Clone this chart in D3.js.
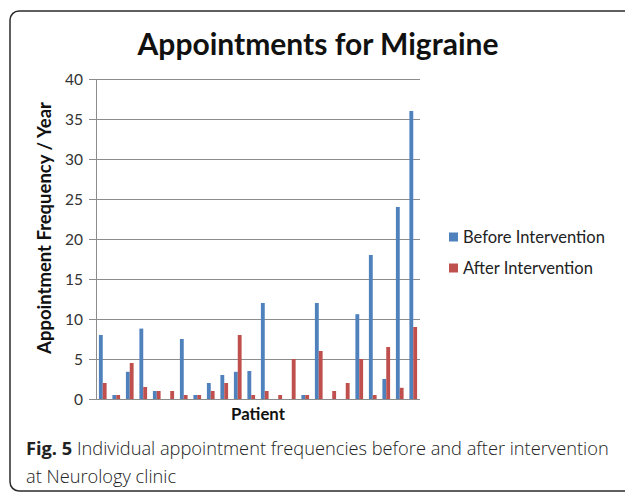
<!DOCTYPE html>
<html><head><meta charset="utf-8">
<script src="https://cdn.jsdelivr.net/npm/d3@7"></script>
<style>
html,body{margin:0;padding:0;background:#fff;}
svg{display:block;}
</style></head>
<body>
<svg id="c" width="625" height="494"></svg>
<script>
const patients = d3.range(1, 25).map(String);
const beforeValues = [8, 0.5, 3.4, 8.8, 1, 0, 7.5, 0.5, 2, 3, 3.4, 3.5, 12, 0, 0, 0.5, 12, 0, 0, 10.6, 18, 2.5, 24, 36];
const afterValues  = [2, 0.5, 4.5, 1.5, 1, 1, 0.5, 0.5, 1, 2, 8, 0.5, 1, 0.5, 5, 0.5, 6, 1, 2, 5, 0.5, 6.5, 1.4, 9];
const seriesNames = ["Before Intervention", "After Intervention"];
const yTicks = [0, 5, 10, 15, 20, 25, 30, 35, 40];
const titleText = "Appointments for Migraine";
const yTitle = "Appointment Frequency / Year";
const xTitle = "Patient";
const captionBold = "Fig. 5";
const captionLine1 = " Individual appointment frequencies before and after intervention";
const captionLine2 = "at Neurology clinic";

const colors = ["#4F81BD", "#C0504D"];
const FONT = "Lato, 'Open Sans', sans-serif";
const svg = d3.select("#c");

// frame
svg.append("rect").attr("x", 10).attr("y", 11).attr("width", 640).attr("height", 480)
  .attr("rx", 9).attr("fill", "none").attr("stroke", "#2b2b2b").attr("stroke-width", 1.5);

const L = 96, R = 420, T = 79, B = 399;
const x = d3.scaleBand().domain(patients).range([L, R]).padding(0);
const y = d3.scaleLinear().domain([0, 40]).range([B, T]);

// grid
svg.append("g").selectAll("line").data(yTicks).join("line")
  .attr("x1", L - 7).attr("x2", R).attr("y1", d => y(d) + 0.5).attr("y2", d => y(d) + 0.5)
  .attr("stroke", "#8c8c8c").attr("stroke-width", 1);
// y axis line
svg.append("line").attr("x1", L + 0.5).attr("x2", L + 0.5).attr("y1", T).attr("y2", B)
  .attr("stroke", "#8c8c8c");

// tick labels
svg.append("g").selectAll("text").data(yTicks).join("text")
  .attr("x", 83).attr("y", d => y(d)).attr("dy", "0.36em").attr("text-anchor", "end")
  .attr("font-family", FONT).attr("font-size", 15.5).attr("fill", "#333").text(d => d);

// bars
const bw = x.bandwidth() / 3.5;
const off = (x.bandwidth() - 2 * bw) / 2;
[beforeValues, afterValues].forEach((vals, si) => {
  svg.append("g").selectAll("rect").data(vals).join("rect")
    .attr("x", (d, i) => x(patients[i]) + off + si * bw)
    .attr("width", bw)
    .attr("y", d => y(d))
    .attr("height", d => B - y(d))
    .attr("fill", colors[si]);
});

function fit(sel, w) {
  const n = sel.node();
  const fs = parseFloat(sel.attr("font-size"));
  const cur = n.getComputedTextLength();
  sel.attr("font-size", fs * w / cur);
}

// title
const t = svg.append("text").attr("x", 318).attr("y", 44).attr("dy", "0.35em")
  .attr("text-anchor", "middle").attr("font-family", FONT).attr("font-weight", "bold")
  .attr("font-size", 28).attr("fill", "#111").text(titleText);
fit(t, 361);

// y title
const yt = svg.append("text").attr("transform", "translate(45,228) rotate(-90)")
  .attr("dy", "0.35em").attr("text-anchor", "middle").attr("font-family", FONT)
  .attr("font-weight", "bold").attr("font-size", 15).attr("fill", "#111").text(yTitle);
fit(yt, 252);

// x title
const xt = svg.append("text").attr("x", (L + R) / 2).attr("y", 414).attr("dy", "0.35em")
  .attr("text-anchor", "middle").attr("font-family", FONT).attr("font-weight", "bold")
  .attr("font-size", 14).attr("fill", "#111").text(xTitle);
fit(xt, 54);

// legend
const leg = svg.append("g").selectAll("g").data(seriesNames).join("g")
  .attr("transform", (d, i) => `translate(449,${237 + i * 31})`);
leg.append("rect").attr("x", 0).attr("y", -4.5).attr("width", 9).attr("height", 9)
  .attr("fill", (d, i) => colors[i]);
leg.append("text").attr("x", 14).attr("dy", "0.36em").attr("font-family", FONT)
  .attr("font-size", 15).attr("fill", "#222").text(d => d)
  .each(function (d, i) { if (i === 0) fit(d3.select(this), 142); });
const lfs = leg.select("text").attr("font-size");
leg.selectAll("text").attr("font-size", lfs);

// caption
const cap = svg.append("text").attr("x", 26).attr("y", 449).attr("dy", "0.35em")
  .attr("font-family", "'Open Sans', sans-serif").attr("font-size", 19).attr("fill", "#222");
cap.append("tspan").attr("font-weight", "bold").text(captionBold);
cap.append("tspan").attr("font-weight", "300").text(captionLine1);
fit(cap, 583);
svg.append("text").attr("x", 26).attr("y", 477).attr("dy", "0.35em")
  .attr("font-family", "'Open Sans', sans-serif").attr("font-weight", "300")
  .attr("font-size", cap.attr("font-size")).attr("fill", "#222").text(captionLine2);
</script>
</body></html>
